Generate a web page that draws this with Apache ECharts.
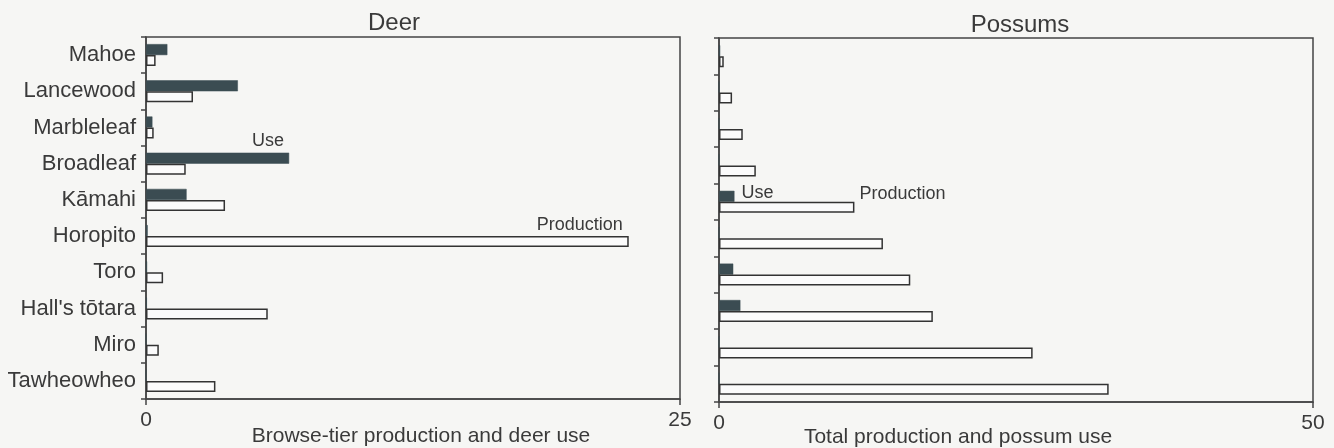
<!DOCTYPE html>
<html>
<head>
<meta charset="utf-8">
<script src="https://cdn.jsdelivr.net/npm/echarts@6/dist/echarts.min.js"></script>
<style>
html, body { margin: 0; padding: 0; background: #f6f6f4; }
#chart { width: 1334px; height: 448px; }
</style>
</head>
<body>
<div id="chart"></div>
<script>
var species = ['Mahoe', 'Lancewood', 'Marbleleaf', 'Broadleaf', 'Kāmahi', 'Horopito', 'Toro', "Hall's tōtara", 'Miro', 'Tawheowheo'];
var deerUse = [1.0, 4.3, 0.3, 6.7, 1.9, 0.08, 0.05, 0.04, 0, 0];
var deerProduction = [0.45, 2.2, 0.36, 1.86, 3.7, 22.6, 0.8, 5.7, 0.6, 3.25];
var possumUse = [0.1, 0, 0, 0, 1.3, 0, 1.2, 1.8, 0, 0];
var possumProduction = [0.4, 1.1, 2.0, 3.1, 11.4, 13.8, 16.1, 18.0, 26.4, 32.8];
var deerTicks = [0, 25];
var possumTicks = [0, 50];

var ink = '#3a3a3a';
var dark = '#3b4c52';
var font = 'Liberation Sans, Arial, sans-serif';

// label one bar with a callout word
function withLabel(values, index, label) {
	return values.map(function(v, i) {
		if (i !== index) return v;
		return { value: v, label: label };
	});
}

var chart = echarts.init(document.getElementById('chart'));
var option = {
	backgroundColor: '#f6f6f4',
	animation: false,
	textStyle: { fontFamily: font, color: ink },
	title: [{
		text: 'Deer', left: 389, top: 6, textAlign: 'center',
		textStyle: { fontSize: 24, fontWeight: 'normal', color: ink, fontFamily: font }
	}, {
		text: 'Possums', left: 1015, top: 8, textAlign: 'center',
		textStyle: { fontSize: 24, fontWeight: 'normal', color: ink, fontFamily: font }
	}],
	grid: [{
		left: 146, top: 37, width: 534, height: 362,
		outerBoundsMode: 'none', containLabel: false,
		show: true, borderColor: '#444', borderWidth: 1.5
	}, {
		left: 719, top: 38, width: 594, height: 364,
		outerBoundsMode: 'none', containLabel: false,
		show: true, borderColor: '#444', borderWidth: 1.5
	}],
	xAxis: [{
		gridIndex: 0, type: 'value', min: deerTicks[0], max: deerTicks[1], interval: deerTicks[1],
		splitLine: { show: false },
		axisLine: { show: true, lineStyle: { color: '#444', width: 1.5 } },
		axisTick: { show: true, length: 6, lineStyle: { color: '#444', width: 1.5 } },
		axisLabel: { fontSize: 21, color: ink, margin: 11 },
		name: 'Browse-tier production and deer use', nameLocation: 'middle', nameGap: 27,
		nameMoveOverlap: false,
		nameTextStyle: { fontSize: 21, color: ink, padding: [0, 0, 0, 16] }
	}, {
		gridIndex: 1, type: 'value', min: possumTicks[0], max: possumTicks[1], interval: possumTicks[1],
		splitLine: { show: false },
		axisLine: { show: true, lineStyle: { color: '#444', width: 1.5 } },
		axisTick: { show: true, length: 6, lineStyle: { color: '#444', width: 1.5 } },
		axisLabel: { fontSize: 21, color: ink, margin: 11 },
		name: 'Total production and possum use', nameLocation: 'middle', nameGap: 25,
		nameMoveOverlap: false,
		nameTextStyle: { fontSize: 21, color: ink, padding: [0, 116, 0, 0] }
	}],
	yAxis: [{
		gridIndex: 0, type: 'category', data: species, inverse: true,
		axisLine: { show: true, lineStyle: { color: '#444', width: 1.5 } },
		axisTick: { show: true, length: 5, lineStyle: { color: '#444', width: 1.5 } },
		axisLabel: { fontSize: 22, color: ink, margin: 10 }
	}, {
		gridIndex: 1, type: 'category', data: species, inverse: true,
		axisLine: { show: true, lineStyle: { color: '#444', width: 1.5 } },
		axisTick: { show: true, length: 5, lineStyle: { color: '#444', width: 1.5 } },
		axisLabel: { show: false }
	}],
	series: [{
		name: 'Use', type: 'bar', xAxisIndex: 0, yAxisIndex: 0,
		barWidth: 11, barGap: '0%',
		itemStyle: { color: dark, borderColor: dark, borderWidth: 0.5 },
		data: withLabel(deerUse, 3, {
			show: true, formatter: 'Use', position: ['100%', 0], align: 'right', verticalAlign: 'bottom',
			offset: [-5, -3], fontSize: 18, color: ink
		})
	}, {
		name: 'Production', type: 'bar', xAxisIndex: 0, yAxisIndex: 0,
		barWidth: 11, barGap: '0%',
		itemStyle: { color: 'rgba(255,255,255,0.6)', borderColor: '#333', borderWidth: 1.5 },
		data: withLabel(deerProduction, 5, {
			show: true, formatter: 'Production', position: ['100%', 0], align: 'right', verticalAlign: 'bottom',
			offset: [-6, -2], fontSize: 18, color: ink
		})
	}, {
		name: 'Use', type: 'bar', xAxisIndex: 1, yAxisIndex: 1,
		barWidth: 11, barGap: '0%',
		itemStyle: { color: dark, borderColor: dark, borderWidth: 0.5 },
		data: withLabel(possumUse, 4, {
			show: true, formatter: 'Use', position: 'right', distance: 7,
			offset: [0, -3], fontSize: 18, color: ink
		})
	}, {
		name: 'Production', type: 'bar', xAxisIndex: 1, yAxisIndex: 1,
		barWidth: 11, barGap: '0%',
		itemStyle: { color: 'rgba(255,255,255,0.6)', borderColor: '#333', borderWidth: 1.5 },
		data: withLabel(possumProduction, 4, {
			show: true, formatter: 'Production', position: ['100%', 0], align: 'left', verticalAlign: 'bottom',
			offset: [5, 1], fontSize: 18, color: ink
		})
	}]
};
chart.setOption(option);
</script>
</body>
</html>
